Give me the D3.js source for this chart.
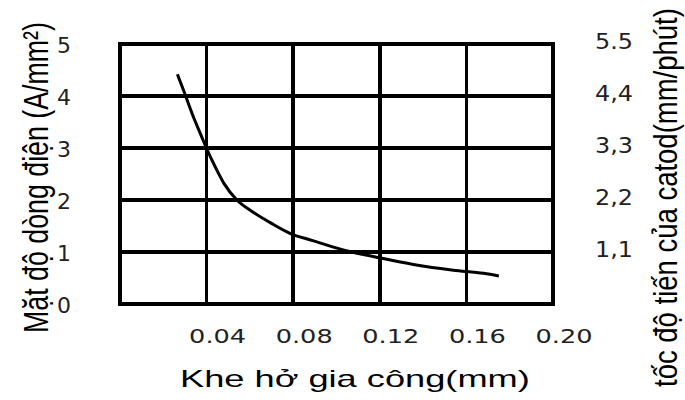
<!DOCTYPE html>
<html>
<head>
<meta charset="utf-8">
<script src="https://cdn.jsdelivr.net/npm/d3@7"></script>
<style>
  html, body { margin: 0; padding: 0; background: #fff; }
  svg { display: block; }
  text { font-family: "Liberation Sans", Arial, sans-serif; fill: #000; }
  .tick-num { font-family: "DejaVu Sans", sans-serif; fill: #222; }
</style>
</head>
<body>
<svg id="chart" width="685" height="400"></svg>
<script>
// Gap width (mm) vs. current density (A/mm²)
const gapMm = [0.0265, 0.0296, 0.0336, 0.0377, 0.040, 0.0443, 0.048, 0.054, 0.061,
               0.070, 0.0785, 0.089, 0.104, 0.1185, 0.1355, 0.154, 0.168, 0.175];
const currentDensity = [4.42, 4.08, 3.63, 3.22, 2.99, 2.61, 2.32, 2.00, 1.78,
                        1.55, 1.36, 1.22, 1.03, 0.90, 0.76, 0.65, 0.59, 0.54];

// Axis ticks
const xTicks = [0.04, 0.08, 0.12, 0.16, 0.20];
const xTickLabels = ["0.04", "0.08", "0.12", "0.16", "0.20"];
const xGrid = [0.04, 0.08, 0.12, 0.16];
const leftTicks = [0, 1, 2, 3, 4, 5];
const leftTickLabels = ["0", "1", "2", "3", "4", "5"];
const rightTicks = [1.1, 2.2, 3.3, 4.4, 5.5];
const rightTickLabels = ["1,1", "2,2", "3,3", "4,4", "5.5"];

// Titles
const xTitle = "Khe hở gia công(mm)";
const leftTitle = "Mặt độ dòng điện (A/mm²)";
const rightTitle = "tốc độ tiến của catod(mm/phút)";

const svg = d3.select("#chart");

const plot = { left: 120, right: 553, top: 44, bottom: 304 };

const x = d3.scaleLinear().domain([0, 0.20]).range([plot.left, plot.right]);
const yLeft = d3.scaleLinear().domain([0, 5]).range([plot.bottom, plot.top]);
const yRight = d3.scaleLinear().domain([0, 5.5]).range([plot.bottom, plot.top]);

// Grid lines
const grid = svg.append("g")
  .attr("stroke", "#000")
  .attr("stroke-width", 3.5)
  .attr("shape-rendering", "crispEdges");

grid.selectAll("line.v").data(xGrid).join("line")
  .attr("class", "v")
  .attr("x1", d => x(d)).attr("x2", d => x(d))
  .attr("y1", plot.top).attr("y2", plot.bottom);

grid.selectAll("line.h").data(leftTicks.slice(1, -1)).join("line")
  .attr("class", "h")
  .attr("x1", plot.left).attr("x2", plot.right)
  .attr("y1", d => yLeft(d)).attr("y2", d => yLeft(d));

// Frame
svg.append("rect")
  .attr("x", plot.left).attr("y", plot.top)
  .attr("width", plot.right - plot.left)
  .attr("height", plot.bottom - plot.top)
  .attr("fill", "none")
  .attr("stroke", "#000")
  .attr("stroke-width", 4)
  .attr("shape-rendering", "crispEdges");

// Curve
const pts = gapMm.map((g, i) => [g, currentDensity[i]]);
const line = d3.line()
  .x(d => x(d[0]))
  .y(d => yLeft(d[1]))
  .curve(d3.curveMonotoneX);

svg.append("path")
  .datum(pts)
  .attr("d", line)
  .attr("fill", "none")
  .attr("stroke", "#000")
  .attr("stroke-width", 3);

// X tick labels
svg.append("g").selectAll("text").data(xTicks).join("text")
  .attr("class", "tick-num")
  .attr("x", d => x(d) + 11)
  .attr("y", 343)
  .attr("text-anchor", "middle")
  .attr("font-size", 20)
  .attr("textLength", 57)
  .attr("lengthAdjust", "spacingAndGlyphs")
  .text((d, i) => xTickLabels[i]);

// Left tick labels
svg.append("g").selectAll("text").data(leftTicks).join("text")
  .attr("class", "tick-num")
  .attr("x", 57)
  .attr("y", d => yLeft(d) + 1)
  .attr("dominant-baseline", "central")
  .attr("font-size", 22)
  .text((d, i) => leftTickLabels[i]);

// Right tick labels
svg.append("g").selectAll("text").data(rightTicks).join("text")
  .attr("class", "tick-num")
  .attr("x", 614)
  .attr("y", d => yRight(d) - 3)
  .attr("dominant-baseline", "central")
  .attr("text-anchor", "middle")
  .attr("font-size", 22)
  .attr("textLength", 38)
  .attr("lengthAdjust", "spacingAndGlyphs")
  .text((d, i) => rightTickLabels[i]);

// Axis titles, squeezed/stretched along their direction to a target length
function title(str, tx, ty, angle, size, length) {
  const t = svg.append("text")
    .attr("font-size", size)
    .text(str);
  const natural = t.node().getComputedTextLength();
  const k = length / natural;
  t.attr("transform", `translate(${tx},${ty}) rotate(${angle}) scale(${k},1)`);
  return t;
}

title(xTitle, 180, 387, 0, 23, 350);
title(leftTitle, 48, 333, -90, 36, 311);
title(rightTitle, 677, 387, -90, 34, 379);
</script>
</body>
</html>
